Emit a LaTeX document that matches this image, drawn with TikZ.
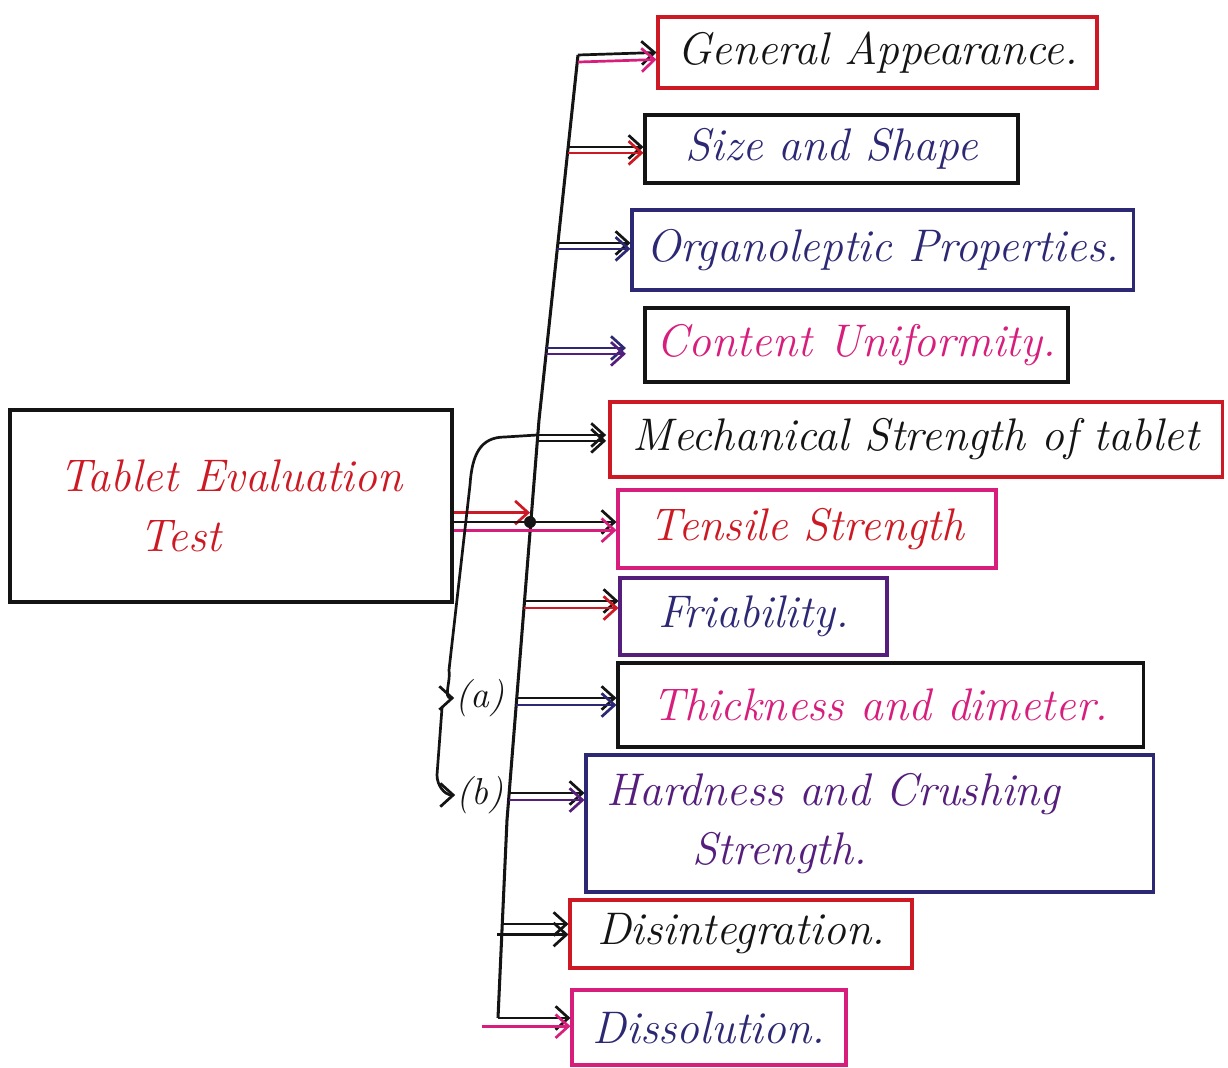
\documentclass[tikz,border=0pt]{standalone}
\usepackage{fontspec}
\usetikzlibrary{arrows.meta}
\definecolor{pred}{RGB}{205,25,35}
\definecolor{pmag}{RGB}{215,30,125}
\definecolor{pnavy}{RGB}{45,40,115}
\definecolor{ppurple}{RGB}{85,30,125}
\definecolor{pblack}{RGB}{20,20,20}
\begin{document}
\begin{tikzpicture}[x=0.03cm,y=-0.03cm,
  box/.style={draw, line width=2.6pt, inner sep=0pt, font=\fontsize{39}{51}\selectfont\itshape},
  conn/.style={line width=2.3pt, -{Straight Barb[length=11pt,width=20pt,line width=2.3pt]}},
  plain/.style={line width=2.6pt, draw=pblack},
  lbl/.style={inner sep=1pt, font=\fontsize{32}{36}\selectfont\itshape, text=pblack}]
\useasboundingbox[fill=white] (0,0) rectangle (1228,1068);

% boxes
\node[box, draw=pblack, text=pred, align=left, minimum width=13.26cm, minimum height=5.76cm] (main) at (231,506) {Tablet Evaluation\\\hspace*{2.4cm}Test};
\node[box, draw=pred, text=pblack, minimum width=13.17cm, minimum height=2.13cm] (GA) at (877.5,52.5) {General Appearance.};
\node[box, draw=pblack, text=pnavy, minimum width=11.19cm, minimum height=2.04cm] (SS) at (831.5,149) {Size and Shape};
\node[box, draw=pnavy, text=pnavy, minimum width=15.03cm, minimum height=2.4cm] (OP) at (882.5,250) {Organoleptic Properties.};
\node[box, draw=pblack, text=pmag, minimum width=12.69cm, minimum height=2.22cm] (CU) at (856.5,345) {Content Uniformity.};
\node[box, draw=pred, text=pblack, minimum width=18.36cm, minimum height=2.25cm] (MS) at (916,439.5) {Mechanical Strength of tablet};
\node[box, draw=pmag, text=pred, minimum width=11.34cm, minimum height=2.34cm] (TS) at (807,529) {Tensile Strength};
\node[box, draw=ppurple, text=pnavy, minimum width=8.01cm, minimum height=2.31cm] (FR) at (753.5,616.5) {Friability.};
\node[box, draw=pblack, text=pmag, minimum width=15.75cm, minimum height=2.52cm] (TD) at (880.5,705) {Thickness and dimeter.};
\node[box, draw=pnavy, text=ppurple, align=left, text width=15.8cm, minimum width=17.01cm, minimum height=4.11cm] (HC) at (869.5,823.5) {Hardness and Crushing\\\hspace*{2.6cm}Strength.};
\node[box, draw=pred, text=pblack, minimum width=10.26cm, minimum height=2.04cm] (DI) at (741,934) {Disintegration.};
\node[box, draw=pmag, text=pnavy, minimum width=8.22cm, minimum height=2.25cm] (DS) at (709,1027.5) {Dissolution.};

% labels
\node[lbl] (la) at (480,698) {(a)};
\node[lbl] (lb) at (480,795) {(b)};

% trunk
\coordinate (T0) at (578,55);
\coordinate (Tm1) at (539,420);
\coordinate (Tm2) at (507,820);
\coordinate (T9) at (498,1018);
\draw[plain] (T0) -- (Tm1) -- (Tm2) -- (T9);

\coordinate (t1) at (568,147);
\coordinate (t2) at (557,243);
\coordinate (t3) at (546,348);
\coordinate (t4) at (537,435);
\coordinate (t5) at (530,522);
\coordinate (t6) at (524,601);
\coordinate (t7) at (516,698);
\coordinate (t8) at (509,793);
\coordinate (t9) at (502,924);

% branches
\draw[conn, pblack] (T0) -- (GA.west);
\draw[conn, pmag] ([yshift=-6pt]T0) -- ([yshift=-6pt]GA.west);
\draw[conn, pblack] (t1) -- (SS.west |- t1);
\draw[conn, pred] ([yshift=-5pt]t1) -- ([yshift=-5pt]SS.west |- t1);
\draw[conn, pblack] (t2) -- (OP.west |- t2);
\draw[conn, pnavy] ([yshift=-5pt]t2) -- ([yshift=-5pt]OP.west |- t2);
\draw[conn, pnavy, shorten >=15pt] (t3) -- (CU.west |- t3);
\draw[conn, ppurple, shorten >=15pt] ([yshift=-5pt]t3) -- ([yshift=-5pt]CU.west |- t3);
\draw[conn, pblack, shorten >=2pt] (t4) -- (MS.west |- t4);
\draw[conn, pblack, shorten >=2pt] ([yshift=-5pt]t4) -- ([yshift=-5pt]MS.west |- t4);

% main to trunk
\draw[conn, pred] ([yshift=8pt]main.east |- t5) -- ([yshift=8pt]t5);
\draw[conn, pblack] (main.east |- t5) -- (TS.west |- t5);
\draw[conn, pmag] ([yshift=-7pt]main.east |- t5) -- ([yshift=-7pt]TS.west |- t5);
\fill[pblack] (t5) circle (6);

\draw[conn, pblack] (t6) -- (FR.west |- t6);
\draw[conn, pred] ([yshift=-6pt]t6) -- ([yshift=-6pt]FR.west |- t6);
\draw[conn, pblack] (t7) -- (TD.west |- t7);
\draw[conn, pnavy] ([yshift=-6pt]t7) -- ([yshift=-6pt]TD.west |- t7);
\draw[conn, pblack] (t8) -- (HC.west |- t8);
\draw[conn, ppurple] ([yshift=-6pt]t8) -- ([yshift=-6pt]HC.west |- t8);
\draw[conn, pblack] (t9) -- (DI.west |- t9);
\draw[conn, pblack] ([shift={(-4pt,-9pt)}]t9) -- ([yshift=-9pt]DI.west |- t9);
\draw[conn, pblack] (T9) -- (DS.west |- T9);
\draw[conn, pmag] ([shift={(-14pt,-7pt)}]T9) -- ([yshift=-7pt]DS.west |- T9);

% mechanical strength sub-branch
\draw[conn, pblack] (t4) -- (505,437) .. controls (480,437) and (472,455) .. (470,485) -- (449,670) to[out=-80,in=180] (la.west);
\coordinate (bk) at (442,708);
\draw[conn, pblack] (bk) -- (437,775) to[out=-90,in=180] (lb.west);
\end{tikzpicture}
\end{document}
